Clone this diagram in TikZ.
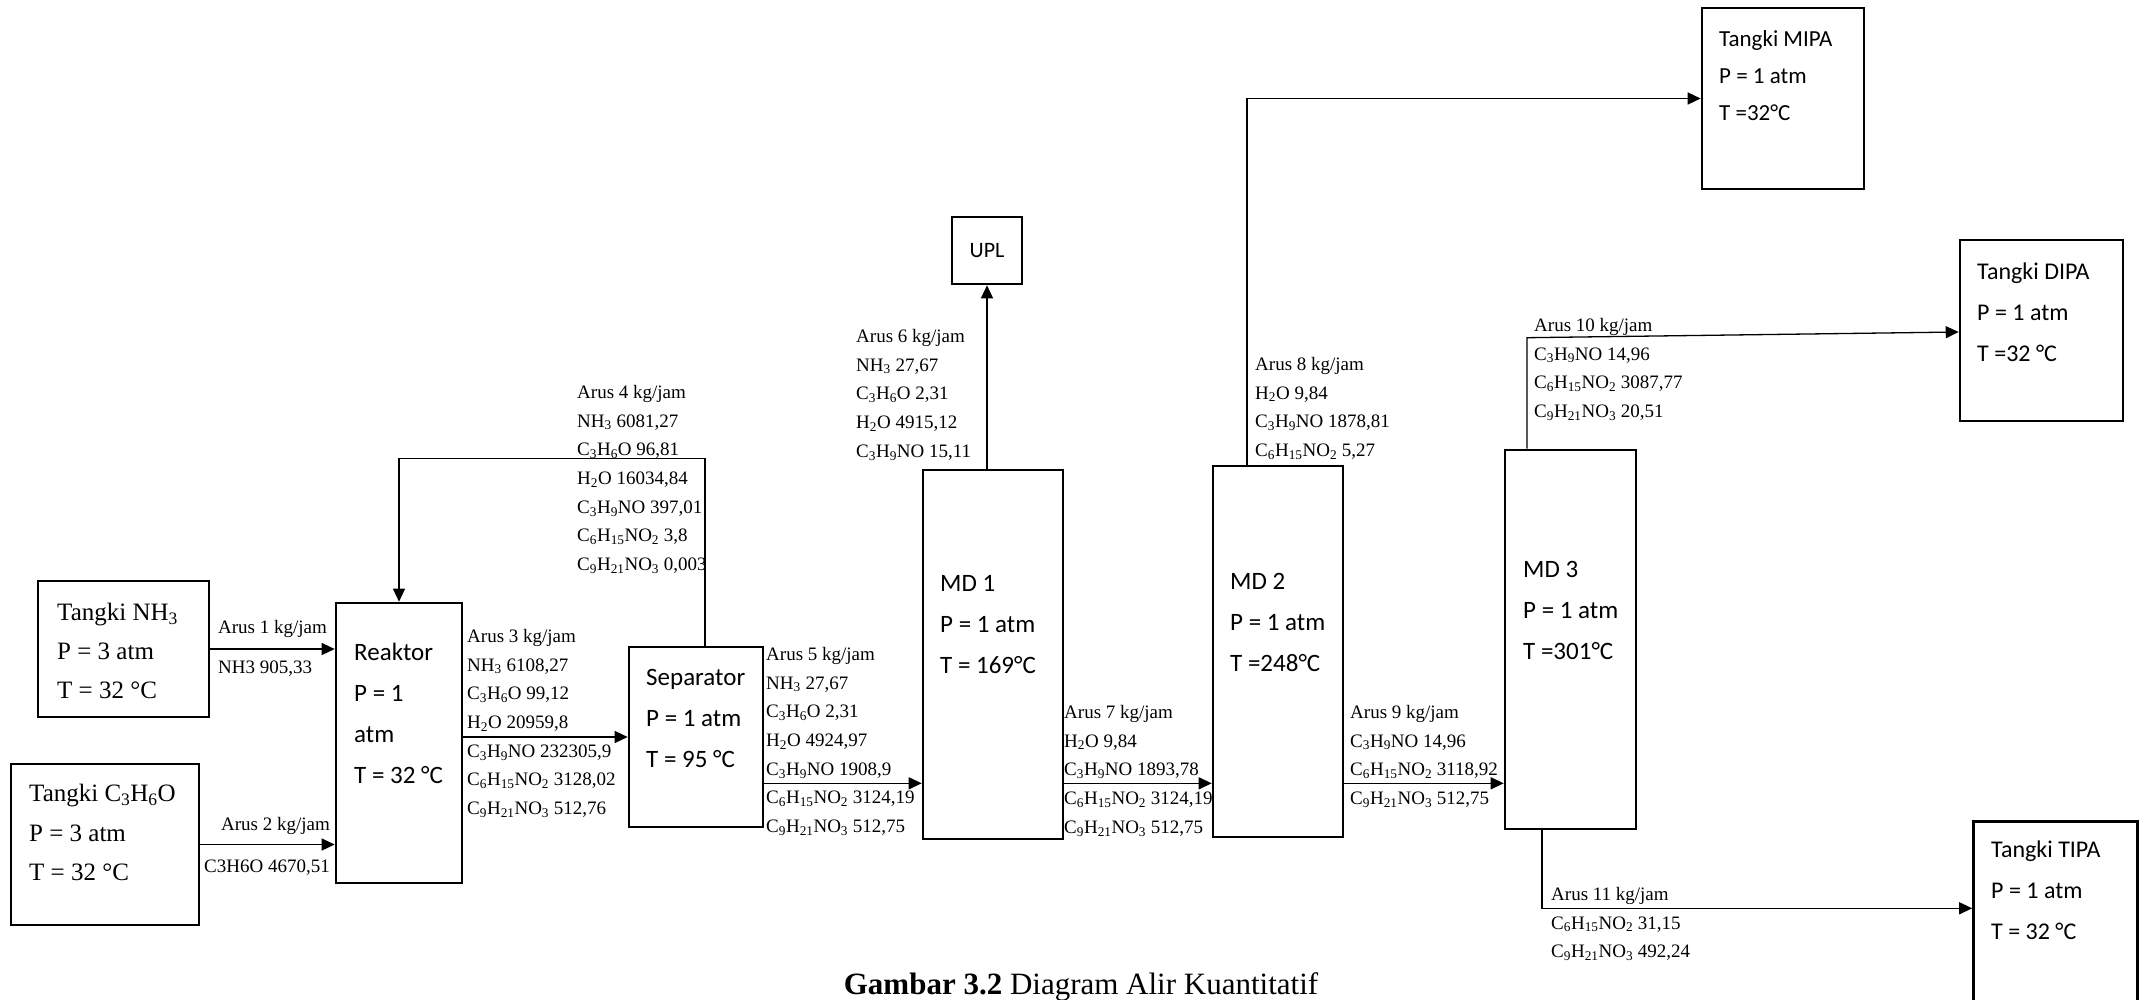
\documentclass[tikz,border=0pt]{standalone}
\usepackage{fontspec}
\setmainfont{Liberation Serif}
\newfontfamily\calibri{Carlito}
\usetikzlibrary{arrows.meta}
\newcommand{\sbs}[1]{\textsubscript{#1}}
\newcommand{\fAmm}{NH\sbs{3}}
\newcommand{\fAcet}{C\sbs{3}H\sbs{6}O}
\newcommand{\fWat}{H\sbs{2}O}
\newcommand{\fMipa}{C\sbs{3}H\sbs{9}NO}
\newcommand{\fDipa}{C\sbs{6}H\sbs{15}NO\sbs{2}}
\newcommand{\fTipa}{C\sbs{9}H\sbs{21}NO\sbs{3}}
\tikzstyle{unitbox} = [rectangle, draw=black, line width=2.6pt, inner sep=0pt]
\tikzstyle{arrow} = [line width=1.3pt, -{Triangle[length=13pt,width=12pt]}]
\tikzstyle{streamtxt} = [anchor=north west, inner sep=0pt, align=left, font=\fontsize{19}{28.7}\selectfont]
\tikzstyle{unittxt} = [anchor=north west, inner sep=0pt, align=left, font=\calibri\fontsize{25}{41}\selectfont]
\tikzstyle{tanktxt} = [anchor=north west, inner sep=0pt, align=left, font=\fontsize{25}{39}\selectfont]

\begin{document}
\begin{tikzpicture}[x=1pt, y=-1pt]
  \useasboundingbox (0,0) rectangle (2147,999);

  % unit boxes
  \node (tnh3) [unitbox, minimum width=171pt, minimum height=136pt] at (123.5,649) {};
  \node (tc3h6o) [unitbox, minimum width=188pt, minimum height=161pt] at (105,844.5) {};
  \node (reaktor) [unitbox, minimum width=126pt, minimum height=280pt] at (399,743) {};
  \node (separator) [unitbox, minimum width=134pt, minimum height=180pt] at (696,737) {};
  \node (md1) [unitbox, minimum width=140pt, minimum height=369pt] at (993,654.5) {};
  \node (upl) [unitbox, minimum width=70pt, minimum height=67pt, font=\calibri\fontsize{22}{26}\selectfont] at (987,250.5) {UPL};
  \node (md2) [unitbox, minimum width=130pt, minimum height=371pt] at (1278,651.5) {};
  \node (md3) [unitbox, minimum width=131pt, minimum height=379pt] at (1570.5,639.5) {};
  \node (mipa) [unitbox, minimum width=162pt, minimum height=181pt] at (1783,98.5) {};
  \node (dipa) [unitbox, minimum width=163pt, minimum height=181pt] at (2041.5,330.5) {};
  \node (tipa) [unitbox, minimum width=164pt, minimum height=200pt, anchor=north] at (2055.5,820) {};

  % texts inside the boxes
  \node (tnh3-txt) [tanktxt] at (57,603) {Tangki \fAmm\\P = 3 atm\\T = 32 °C};
  \node (tc3h6o-txt) [tanktxt, font=\fontsize{25}{39.5}\selectfont] at (29,784) {Tangki \fAcet\\P = 3 atm\\T = 32 °C};
  \node (reaktor-txt) [unittxt] at (354,643) {Reaktor\\P = 1\\atm\\T = 32 °C};
  \node (separator-txt) [unittxt] at (646,669) {Separator\\P = 1 atm\\T = 95 °C};
  \node (md1-txt) [unittxt] at (940,575) {MD 1\\P = 1 atm\\T = 169°C};
  \node (md2-txt) [unittxt] at (1230,573) {MD 2\\P = 1 atm\\T =248°C};
  \node (md3-txt) [unittxt] at (1523,561) {MD 3\\P = 1 atm\\T =301°C};
  \node (mipa-txt) [unittxt, font=\calibri\fontsize{23}{37}\selectfont] at (1719,30) {Tangki MIPA\\P = 1 atm\\T =32°C};
  \node (dipa-txt) [unittxt, font=\calibri\fontsize{24}{41}\selectfont] at (1977,263) {Tangki DIPA\\P = 1 atm\\T =32 °C};
  \node (tipa-txt) [unittxt, font=\calibri\fontsize{24}{41}\selectfont] at (1991,841) {Tangki TIPA\\P = 1 atm\\T = 32 °C};

  % stream data
  \node (s1a) [streamtxt] at (218,620) {Arus 1 kg/jam};
  \node (s1b) [streamtxt] at (218,661) {NH3 905,33};
  \node (s2a) [streamtxt, anchor=north east] at (330,817) {Arus 2 kg/jam};
  \node (s2b) [streamtxt, anchor=north east] at (330,860) {C3H6O 4670,51};
  \node (s3) [streamtxt] at (467,629) {Arus 3 kg/jam\\\fAmm{} 6108,27\\\fAcet{} 99,12\\\fWat{} 20959,8\\\fMipa{} 232305,9\\\fDipa{} 3128,02\\\fTipa{} 512,76};
  \node (s4) [streamtxt] at (577,385) {Arus 4 kg/jam\\\fAmm{} 6081,27\\\fAcet{} 96,81\\\fWat{} 16034,84\\\fMipa{} 397,01\\\fDipa{} 3,8\\\fTipa{} 0,003};
  \node (s5) [streamtxt] at (766,647) {Arus 5 kg/jam\\\fAmm{} 27,67\\\fAcet{} 2,31\\\fWat{} 4924,97\\\fMipa{} 1908,9\\\fDipa{} 3124,19\\\fTipa{} 512,75};
  \node (s6) [streamtxt] at (856,329) {Arus 6 kg/jam\\\fAmm{} 27,67\\\fAcet{} 2,31\\\fWat{} 4915,12\\\fMipa{} 15,11};
  \node (s7) [streamtxt] at (1064,705) {Arus 7 kg/jam\\\fWat{} 9,84\\\fMipa{} 1893,78\\\fDipa{} 3124,19\\\fTipa{} 512,75};
  \node (s8) [streamtxt] at (1255,357) {Arus 8 kg/jam\\\fWat{} 9,84\\\fMipa{} 1878,81\\\fDipa{} 5,27};
  \node (s9) [streamtxt] at (1350,705) {Arus 9 kg/jam\\\fMipa{} 14,96\\\fDipa{} 3118,92\\\fTipa{} 512,75};
  \node (s10) [streamtxt] at (1534,318) {Arus 10 kg/jam\\\fMipa{} 14,96\\\fDipa{} 3087,77\\\fTipa{} 20,51};
  \node (s11) [streamtxt] at (1551,887) {Arus 11 kg/jam\\\fDipa{} 31,15\\\fTipa{} 492,24};

  % streams
  \draw [arrow] (tnh3.east) -- (tnh3.east -| reaktor.west);
  \draw [arrow] (tc3h6o.east) -- (tc3h6o.east -| reaktor.west);
  \draw [arrow] (separator.west -| reaktor.east) -- (separator.west);
  \draw [arrow] ([xshift=9pt]separator.north) -- ++(0,-187) -| (reaktor.north);
  \draw [arrow] ([yshift=45pt]separator.south east) -- ([yshift=45pt]separator.south east -| md1.west);
  \draw [arrow] (md1.north -| upl.south) -- (upl.south);
  \draw [arrow] ([yshift=57pt]md1.south east) -- ([yshift=57pt]md1.south east -| md2.west);
  \draw [arrow] ([xshift=-31pt]md2.north) |- (mipa.west);
  \draw [arrow] ([yshift=55pt]md2.south east) -- ([yshift=55pt]md2.south east -| md3.west);
  \draw [arrow] ([xshift=-43.5pt]md3.north) -- ++(0,-111) -- ([yshift=-1.5pt]dipa.west);
  \draw [arrow] ([xshift=-28.5pt]md3.south) |- ([yshift=13pt]tipa.west);

  \node (caption) [anchor=base, font=\fontsize{31}{36}\selectfont] at (1081,994) {\textbf{Gambar 3.2} Diagram Alir Kuantitatif};
\end{tikzpicture}
\end{document}
